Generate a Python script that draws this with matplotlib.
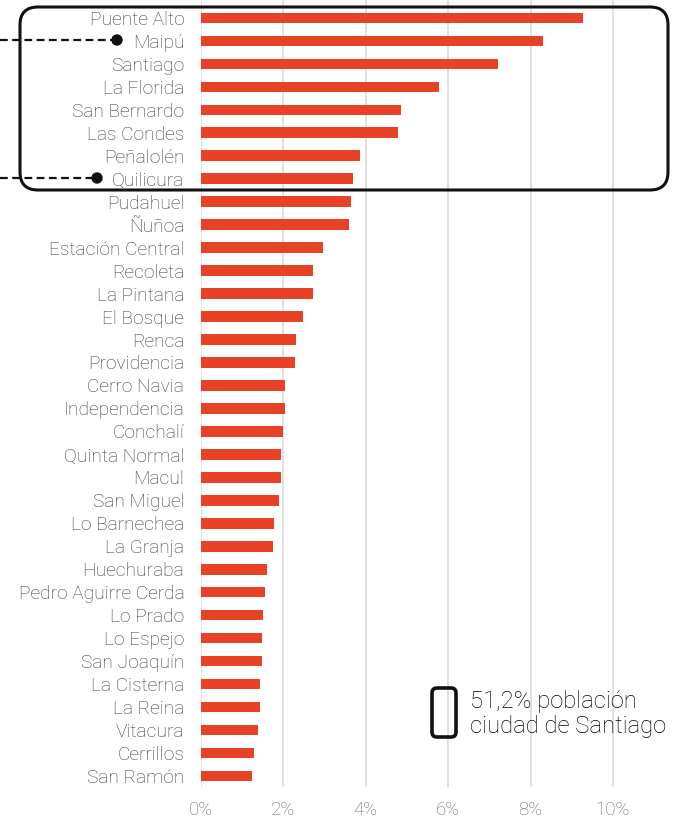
import numpy as np
import matplotlib.pyplot as plt
from matplotlib.patches import FancyBboxPatch, Circle

comunas = [
    "Puente Alto", "Maipú", "Santiago", "La Florida", "San Bernardo",
    "Las Condes", "Peñalolén", "Quilicura", "Pudahuel", "Ñuñoa",
    "Estación Central", "Recoleta", "La Pintana", "El Bosque", "Renca",
    "Providencia", "Cerro Navia", "Independencia", "Conchalí",
    "Quinta Normal", "Macul", "San Miguel", "Lo Barnechea", "La Granja",
    "Huechuraba", "Pedro Aguirre Cerda", "Lo Prado", "Lo Espejo",
    "San Joaquín", "La Cisterna", "La Reina", "Vitacura", "Cerrillos",
    "San Ramón",
]
share = [
    9.26, 8.31, 7.22, 5.78, 4.85, 4.79, 3.86, 3.69, 3.64, 3.59,
    2.97, 2.73, 2.71, 2.47, 2.31, 2.27, 2.05, 2.04, 2.00,
    1.95, 1.93, 1.90, 1.78, 1.75, 1.61, 1.55, 1.50, 1.49,
    1.49, 1.44, 1.44, 1.38, 1.28, 1.24,
]
xticks = [0, 2, 4, 6, 8, 10]
note = "51,2% población\nciudad de Santiago"

BAR = "#e84226"
GRID = "#dcdcdc"
LABEL = "#3a3a3a"
INK = "#111111"
FONT = ["Roboto", "DejaVu Sans"]

W, H = 673, 823
fig = plt.figure(figsize=(W / 100, H / 100), dpi=100)
fig.patch.set_facecolor("white")

# main axes: 0% at x=201px, 1% = 41.2px
ax = fig.add_axes([201 / W, 1 - 787 / H, 41.2 * 11.25 / W, 787 / H])

y = np.arange(len(comunas))
ax.barh(y, share, height=0.46, color=BAR, zorder=3)
ax.set_xlim(0, 11.25)
ax.set_ylim(33.48, -0.78)
ax.set_xticks(xticks)
ax.set_xticklabels([f"{t}%" for t in xticks], fontfamily=FONT,
                   fontsize=13.5, fontweight="light", color="#6a6a6a")
ax.set_yticks(y)
ax.set_yticklabels(comunas, fontfamily=FONT, fontsize=13.8,
                   fontweight="light", color=LABEL)
ax.tick_params(axis="y", length=0, pad=12)
ax.tick_params(axis="x", length=0, pad=10)
ax.grid(axis="x", color=GRID, lw=1.2, zorder=0)
for s in ax.spines.values():
    s.set_visible(False)

# overlay in pixel units for the annotations
ov = fig.add_axes([0, 0, 1, 1])
ov.set_xlim(0, W)
ov.set_ylim(H, 0)
ov.axis("off")
ov.patch.set_alpha(0)

# box round the eight largest comunas
ov.add_patch(FancyBboxPatch((38, 25), 612, 147, boxstyle="round,pad=18",
                            fc="none", ec=INK, lw=2.2))

for (xd, yd) in [(117, 40), (97, 178)]:
    ov.plot([0, xd], [yd, yd], color=INK, lw=1.6, ls=(0, (3.5, 2)))
    ov.add_patch(Circle((xd, yd), 5, color=INK))

# legend key
ov.add_patch(FancyBboxPatch((437, 693), 14, 39, boxstyle="round,pad=5",
                            fc="none", ec=INK, lw=2.6))
ov.text(470, 714, note, fontfamily=FONT, fontsize=17.2, fontweight="light",
        color="#000000", va="center", ha="left", linespacing=1.15)

fig.savefig("out.png", dpi=100)
